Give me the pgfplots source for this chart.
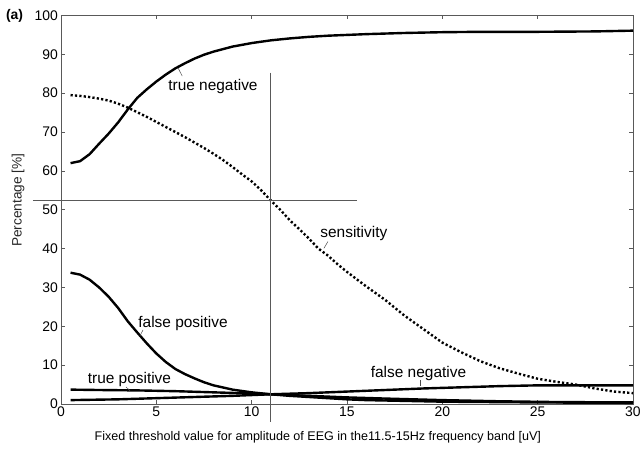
\documentclass[border=0pt]{standalone}
\usepackage{pgfplots}
\pgfplotsset{compat=1.18}
\usepackage{fontspec}
\setmainfont{Liberation Sans}

\pgfplotstableread{
x y
0.5 62.0
1 62.5
1.5 64.3
2 67.0
2.5 69.6
3 72.5
3.5 75.8
4 78.8
4.5 81.0
5 83.0
5.5 84.8
6 86.4
6.5 87.7
7 88.9
7.5 89.9
8 90.7
9 92.0
10 92.9
11 93.6
12 94.1
13 94.5
14 94.8
16 95.2
18 95.5
20 95.7
22 95.8
25 95.8
28 95.9
29 96.0
30 96.1
}\tn

\pgfplotstableread{
x y
0.5 79.5
1 79.3
1.5 79.0
2 78.6
2.5 78.1
3 77.3
3.5 76.3
4 75.1
4.5 73.9
5 72.6
5.5 71.3
6 70.0
6.5 68.7
7 67.3
7.5 65.9
8 64.4
8.5 62.8
9 61.0
9.5 59.1
10 57.3
10.5 55.0
11 52.4
11.5 50.0
12 47.3
12.5 45.0
13 42.6
13.5 40.0
14 38.2
14.5 36.0
15 34.0
16 30.3
17 26.8
18 22.8
19 19.3
20 15.8
21 13.3
22 11.0
23 9.2
24 7.8
25 6.5
26 5.7
27 5.0
28 4.0
29 3.2
30 2.8
}\sens

\pgfplotstableread{
x y
0.5 33.8
1 33.3
1.5 32.0
2 30.0
2.5 27.6
3 24.7
3.5 21.3
4 18.4
4.5 15.6
5 13.0
5.5 10.8
6 9.0
6.5 7.7
7 6.6
7.5 5.6
8 4.8
9 3.7
10 3.0
11 2.5
12 2.1
13 1.8
14 1.5
15 1.2
16 1.0
18 0.8
20 0.6
25 0.4
30 0.3
}\fp

\pgfplotstableread{
x y
0.5 3.7
2 3.6
4 3.5
6 3.3
8 3.0
10 2.7
11 2.5
12 2.3
13 2.1
14 1.9
15 1.7
17 1.4
20 1.0
23 0.7
26 0.5
30 0.4
}\tp

\pgfplotstableread{
x y
0.5 1.0
3 1.2
5 1.5
7 1.8
9 2.1
11 2.5
13 2.8
15 3.2
17 3.6
19 4.0
21 4.3
23 4.6
25 4.8
30 4.8
}\fn

\begin{document}
\begin{tikzpicture}
\begin{axis}[
  scale only axis,
  width=572bp, height=388.5bp,
  xmin=0, xmax=30, ymin=0, ymax=100,
  xtick={0,5,...,30}, ytick={0,10,...,100},
  tick pos=both, tick align=inside,
  major tick length=4bp,
  axis line style={black!65, line width=0.6bp},
  every tick/.style={black!65, line width=0.6bp},
  tick label style={font=\fontsize{14}{16}\selectfont},
  xticklabel style={yshift=1bp},
  yticklabel style={xshift=0.5bp},
  /pgf/number format/assume math mode=true,
  clip=false,
]
\addplot[black, line width=2.4bp] table[x=x,y=y] {\tn};
\addplot[black, line width=2.4bp, dash pattern=on 2.2bp off 2.2bp] table[x=x,y=y] {\sens};
\addplot[black, line width=2.4bp] table[x=x,y=y] {\fp};
\addplot[black, line width=2.4bp] table[x=x,y=y] {\tp};
\addplot[black, line width=2.4bp] table[x=x,y=y] {\fn};
% crosshair lines
\addplot[black!65, line width=0.7bp] coordinates {(-1.47,52.3) (15.5,52.3)};
\addplot[black!65, line width=0.7bp] coordinates {(11.0,85.3) (11.0,-4.6)};

\begin{scope}[every node/.style={font=\fontsize{15.5}{17}\selectfont, inner sep=0pt}]
\node at (axis cs:7.97,81.85) {true negative};
\draw[black!70, line width=0.5bp] (axis cs:6.15,86.4) -- (axis cs:6.36,84.4);
\node at (axis cs:15.36,43.8) {sensitivity};
\draw[black!70, line width=0.5bp] (axis cs:14.0,41.8) -- (axis cs:13.79,40.1);
\node at (axis cs:6.4,20.6) {false positive};
\draw[black!70, line width=0.5bp] (axis cs:4.3,19.05) -- (axis cs:4.14,17.5);
\node at (axis cs:3.59,6.18) {true positive};
\draw[black!70, line width=0.5bp] (axis cs:3.41,4.38) -- (axis cs:3.62,3.42);
\node at (axis cs:18.75,7.85) {false negative};
\draw[black!70, line width=0.5bp] (axis cs:18.83,6.18) -- (axis cs:18.83,4.6);
\end{scope}

\node[font=\bfseries\fontsize{14}{16}\selectfont, anchor=east, inner sep=0pt] at (axis description cs:-0.066,1.0) {(a)};
\node[font=\fontsize{13.7}{15}\selectfont, rotate=90, inner sep=0pt, text=black!85] at (axis description cs:-0.075,0.525) {Percentage [\%]};
\node[font=\fontsize{12.6}{14}\selectfont, inner sep=0pt] at (axis description cs:0.449,-0.085) {Fixed threshold value for amplitude of EEG in the11.5-15Hz frequency band [uV]};
\end{axis}
\pgfresetboundingbox
\path[use as bounding box] ([shift={(-61bp,-47bp)}]current axis.south west) rectangle ([shift={(9bp,15.5bp)}]current axis.north east);
\end{tikzpicture}
\end{document}
